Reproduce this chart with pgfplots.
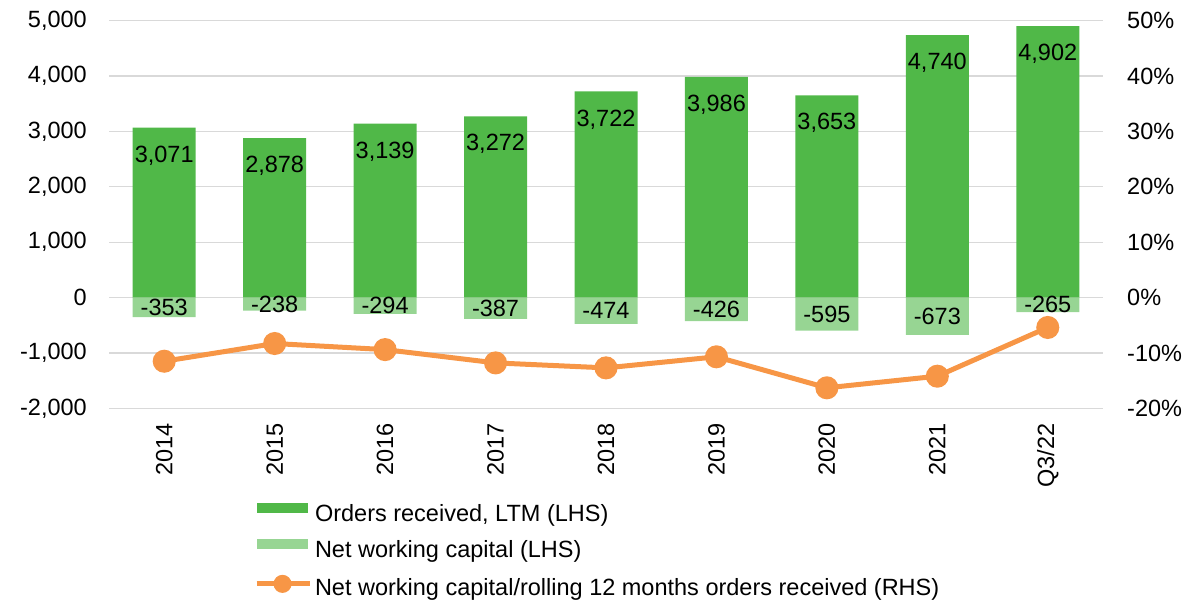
\documentclass[border=0pt]{standalone}
\usepackage{pgfplots}
\pgfplotsset{compat=1.18}
\usepackage{fontspec}
\setmainfont{Liberation Sans}
\definecolor{ordg}{RGB}{80,184,72}
\definecolor{nwcg}{RGB}{151,213,147}
\definecolor{orng}{RGB}{247,150,70}
\definecolor{gridg}{RGB}{217,217,217}
\newcommand\fs{\fontsize{23.5}{28}\selectfont}
\begin{document}
\begin{tikzpicture}
\useasboundingbox (0,0) rectangle (1204pt,600pt);
\pgfplotsset{base/.style={
  at={(109pt,191.7pt)}, anchor=south west, width=994pt, height=387.6pt, scale only axis,
  xmin=-0.5, xmax=8.5, axis line style={draw=none}, major tick length=0pt,
  tick label style={font=\fs, inner sep=0pt},
  /pgf/number format/assume math mode=true,
  /pgf/number format/1000 sep={,},
  /pgf/number format/fixed,
  /pgf/number format/precision=1,
}}
\begin{axis}[base, ymin=-2000, ymax=5000,
  ytick={-2000,-1000,0,1000,2000,3000,4000,5000},
  ymajorgrids, grid style={draw=gridg, line width=1.2pt},
  xtick={0,...,8},
  xticklabels={2014,2015,2016,2017,2018,2019,2020,2021,Q3/22},
  xticklabel style={rotate=90, anchor=east},
  xticklabel shift=15pt,
  yticklabel style={anchor=east},
  yticklabel shift=22pt]
\addplot[ybar, bar width=63pt, bar shift=0pt, fill=ordg, draw=none,
  nodes near coords,
  every node near coord/.append style={font=\fs, inner sep=0pt, anchor=north, yshift=-18pt}]
  coordinates {(0,3071) (1,2878) (2,3139) (3,3272) (4,3722) (5,3986) (6,3653) (7,4740) (8,4902)};
\addplot[ybar, bar width=63pt, bar shift=0pt, fill=nwcg, draw=none,
  nodes near coords,
  visualization depends on={y \as \rawy},
  every node near coord/.append style={font=\fs, inner sep=0pt, anchor=center, yshift={-0.027686*\rawy}}]
  coordinates {(0,-353) (1,-238) (2,-294) (3,-387) (4,-474) (5,-426) (6,-595) (7,-673) (8,-265)};
\end{axis}
\begin{axis}[base, ymin=-20, ymax=50,
  ytick={-20,-10,0,10,20,30,40,50},
  yticklabel pos=right,
  yticklabel={\pgfmathprintnumber{\tick}\%},
  yticklabel style={anchor=west},
  yticklabel shift=24pt,
  xtick=\empty,
  legend image code/.code={\fill[#1] (0pt,3pt) rectangle (51pt,13pt);},
  legend style={at={(axis description cs:0.1459,-0.244)}, anchor=north west,
    draw=none, fill=none, inner sep=0pt, outer sep=0pt, font=\fs,
    row sep=12pt, column sep=3pt,
    nodes={inner sep=0pt, outer sep=0pt, text height=17pt, text depth=5pt}},
  legend cell align=left]
\addlegendimage{fill=ordg, draw=none}
\addlegendentry{Orders received, LTM (LHS)}
\addlegendimage{fill=nwcg, draw=none}
\addlegendentry{Net working capital (LHS)}
\addplot[orng, line width=5pt, mark=*, mark size=9pt, mark options={draw=none, fill=orng},
  legend image code/.code={\draw[orng, line width=5pt] (0pt,6pt)--(53pt,6pt); \fill[orng] (26pt,6pt) circle (6.5pt);}]
  coordinates {(0,-11.5) (1,-8.3) (2,-9.4) (3,-11.8) (4,-12.7) (5,-10.7) (6,-16.3) (7,-14.2) (8,-5.4)};
\addlegendentry{Net working capital/rolling 12 months orders received (RHS)}
\end{axis}
\end{tikzpicture}
\end{document}
